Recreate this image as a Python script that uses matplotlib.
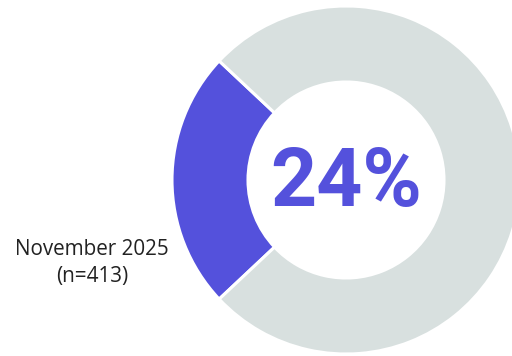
import matplotlib
matplotlib.use("Agg")
import matplotlib.pyplot as plt

# Survey share
labels = ["Yes", "Other"]
shares = [24, 76]
colors = ["#5451DC", "#D8E0DF"]
period_label = "November 2025\n(n=413)"

fig = plt.figure(figsize=(5.12, 3.56), dpi=100)
ax = fig.add_axes([0, 0, 1, 1])

outer_r = 174
inner_r = 98
center = (346, 176)

start = 180 - shares[0] / 100 * 360 / 2
ax.pie(shares, colors=colors, startangle=start, counterclock=True,
       radius=outer_r, center=center,
       wedgeprops=dict(width=outer_r - inner_r, edgecolor="white", linewidth=2.2))

ax.text(center[0], center[1] - 4, f"{shares[0]}%", ha="center", va="center",
        fontsize=58, fontweight="bold", color=colors[0], family="Roboto")

ax.text(92, 93, period_label, ha="center", va="center", fontsize=14.9,
        color="#222222", family="Open Sans", linespacing=1.32)

ax.set_xlim(0, 512)
ax.set_ylim(0, 356)
ax.set_aspect("equal")
ax.axis("off")

fig.savefig("out.png", dpi=100)
